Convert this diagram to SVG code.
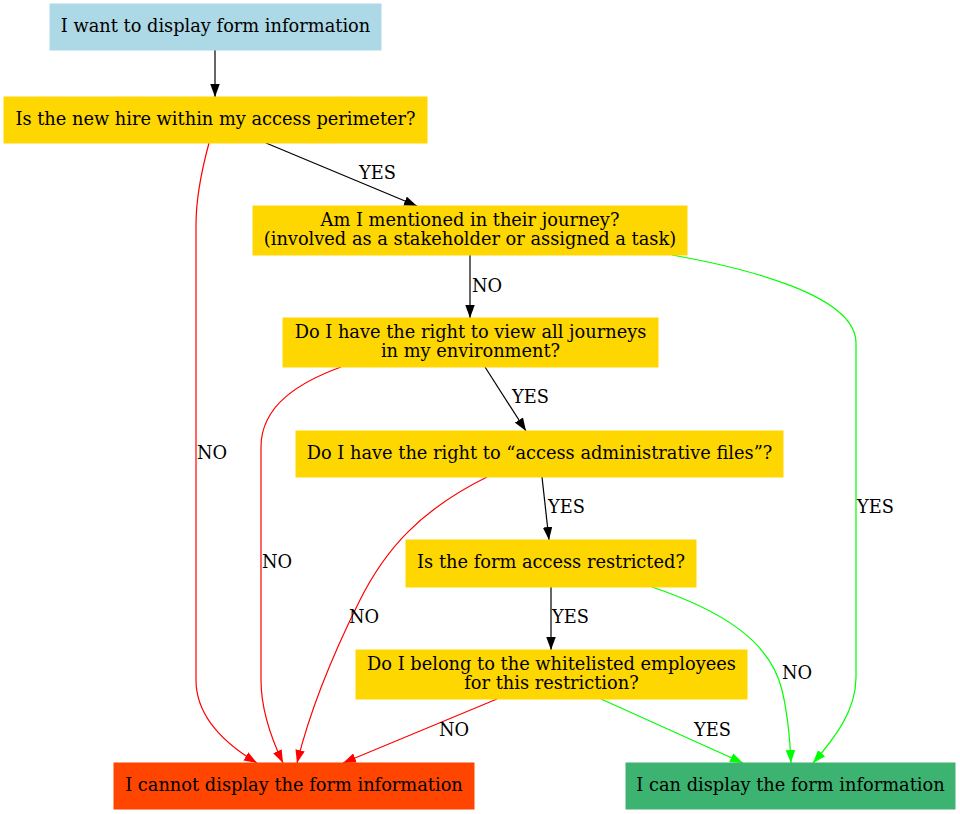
<svg xmlns="http://www.w3.org/2000/svg" width="960" height="814" viewBox="0 0 960 814">
<defs>
<marker id="ab" markerUnits="userSpaceOnUse" markerWidth="14" markerHeight="10" refX="13" refY="4.75" orient="auto"><path d="M0,0 L13,4.75 L0,9.5 z" fill="#000"/></marker>
<marker id="ar" markerUnits="userSpaceOnUse" markerWidth="14" markerHeight="10" refX="13" refY="4.75" orient="auto"><path d="M0,0 L13,4.75 L0,9.5 z" fill="#FF0000"/></marker>
<marker id="ag" markerUnits="userSpaceOnUse" markerWidth="14" markerHeight="10" refX="13" refY="4.75" orient="auto"><path d="M0,0 L13,4.75 L0,9.5 z" fill="#00FF00"/></marker>
</defs>
<style>
text{font-family:"DejaVu Serif",serif;font-size:17.8px;fill:#000}
.n text{text-anchor:middle}
.e{fill:none;stroke-width:1.2}
.k{stroke:#000;marker-end:url(#ab)}
.r{stroke:#FF0000;marker-end:url(#ar)}
.g{stroke:#00FF00;marker-end:url(#ag)}
.q{fill:#FFD700;stroke:#FFD700}
</style>
<rect width="960" height="814" fill="#fff"/>
<g id="connectors">
<path class="e k" d="M215,50 L215,97"/>
<path class="e k" d="M266,143 L417,206"/>
<path class="e r" d="M209,143 C203,165 196,195 196,225 L196,680 C196,715 222,742 257,763"/>
<path class="e k" d="M470,255 L470,318"/>
<path class="e g" d="M672,255 C745,268 856,295 856,343 L856,678 C856,710 835,738 813,763"/>
<path class="e k" d="M485,367 L526,431"/>
<path class="e r" d="M341,367 C300,382 261,405 261,447 L261,680 C261,710 272,740 283,763"/>
<path class="e k" d="M542,477 L549,540"/>
<path class="e r" d="M487,477 C420,510 385,550 360,600 C335,650 310,710 297,763"/>
<path class="e k" d="M551,587 L551,650"/>
<path class="e g" d="M652,587 C720,610 770,640 782,690 C788,715 790,740 791,763"/>
<path class="e r" d="M497,699 L343,763"/>
<path class="e g" d="M601,699 L743,763"/>
<text x="359" y="179">YES</text>
<text x="472" y="292">NO</text>
<text x="512" y="403">YES</text>
<text x="197" y="459">NO</text>
<text x="262" y="568">NO</text>
<text x="349" y="623">NO</text>
<text x="548" y="513">YES</text>
<text x="552" y="623">YES</text>
<text x="782" y="679">NO</text>
<text x="857" y="513">YES</text>
<text x="439" y="736">NO</text>
<text x="694" y="736">YES</text>
</g>
<g id="start" class="n"><rect x="50" y="4" width="331" height="46" fill="#ADD8E6" stroke="#ADD8E6"/><text x="215.5" y="32">I want to display form information</text></g>
<g id="perimeter" class="n"><rect class="q" x="4" y="97" width="423" height="46"/><text x="215.5" y="125">Is the new hire within my access perimeter?</text></g>
<g id="mentioned" class="n"><rect class="q" x="253" y="206" width="434" height="49"/><text x="470" y="226">Am I mentioned in their journey?</text><text x="470" y="245">(involved as a stakeholder or assigned a task)</text></g>
<g id="viewall" class="n"><rect class="q" x="283" y="318" width="375" height="49"/><text x="470.5" y="338">Do I have the right to view all journeys</text><text x="470.5" y="357">in my environment?</text></g>
<g id="adminfiles" class="n"><rect class="q" x="296" y="431" width="487" height="46"/><text x="539.5" y="459">Do I have the right to “access administrative files”?</text></g>
<g id="restricted" class="n"><rect class="q" x="406" y="540" width="290" height="47"/><text x="551" y="568">Is the form access restricted?</text></g>
<g id="whitelist" class="n"><rect class="q" x="356" y="650" width="391" height="49"/><text x="551.5" y="670">Do I belong to the whitelisted employees</text><text x="551.5" y="689">for this restriction?</text></g>
<g id="cannot" class="n"><rect x="114" y="763" width="360" height="46" fill="#FF4500" stroke="#FF4500"/><text x="294" y="791">I cannot display the form information</text></g>
<g id="can" class="n"><rect x="626" y="763" width="329" height="46" fill="#3CB371" stroke="#3CB371"/><text x="790.5" y="791">I can display the form information</text></g>
</svg>
